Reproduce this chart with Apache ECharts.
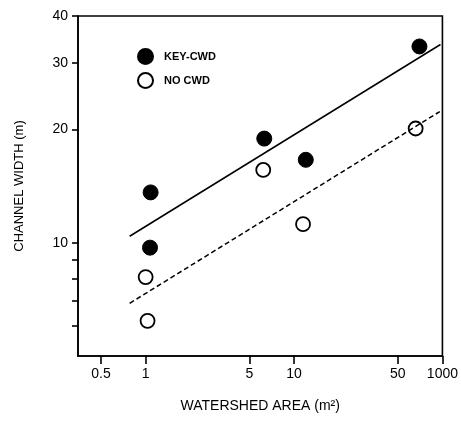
<!DOCTYPE html>
<html>
<head>
<meta charset="utf-8">
<script src="https://cdn.jsdelivr.net/npm/echarts@6/dist/echarts.min.js"></script>
<style>
html,body{margin:0;padding:0;background:#fff;}
#chart{width:461px;height:425px;}
</style>
</head>
<body>
<div id="chart"></div>
<script>
// Data (watershed area, channel width)
const keyCwdX = [1.08, 1.07, 6.3, 12, 70];
const keyCwdY = [13.6, 9.7, 18.9, 16.6, 33.2];
const noCwdX = [1.0, 1.03, 6.2, 11.5, 66];
const noCwdY = [8.1, 6.2, 15.6, 11.2, 20.1];
const keyFitX = [0.78, 97];
const keyFitY = [10.4, 33.6];
const noFitX = [0.78, 96];
const noFitY = [6.9, 22.3];
const xTickValues = [0.5, 1, 5, 10, 50, 100];
const xTickLabels = ['0.5', '1', '5', '10', '50', '1000'];
const yLabelValues = [10, 20, 30, 40];
const yTickValues = [6, 7, 8, 9, 10, 20, 30, 40];

const zip = (a, b) => a.map((v, i) => [v, b[i]]);
const font = 'Liberation Sans, Arial, sans-serif';

const chart = echarts.init(document.getElementById('chart'));
chart.setOption({
  animation: false,
  backgroundColor: '#fff',
  grid: { left: 78, right: 15, top: 16, bottom: 69, show: true, borderColor: '#000', borderWidth: 1.6, backgroundColor: 'transparent' },
  legend: {
    left: 132, top: 43, orient: 'vertical', itemGap: 7,
    itemWidth: 15, itemHeight: 15, icon: 'circle',
    data: ['KEY-CWD', 'NO CWD'],
    textStyle: { fontFamily: font, fontSize: 11, fontWeight: 'bold', color: '#000', padding: [0, 0, 0, 6] }
  },
  xAxis: {
    type: 'log', min: 0.35, max: 100,
    name: 'WATERSHED AREA (m²)', nameLocation: 'middle', nameGap: 43,
    nameTextStyle: { fontFamily: font, fontSize: 14, color: '#000' },
    axisLine: { lineStyle: { color: '#000', width: 1.6 } },
    axisTick: { show: true, inside: false, length: 8, lineStyle: { color: '#000', width: 1.6 }, customValues: xTickValues },
    axisLabel: { fontFamily: font, fontSize: 14, color: '#000', margin: 11,
      customValues: xTickValues,
      formatter: v => { const i = xTickValues.findIndex(t => Math.abs(t - v) < 1e-6); return i >= 0 ? xTickLabels[i] : ''; } },
    splitLine: { show: false }, minorTick: { show: false }
  },
  yAxis: {
    type: 'log', min: 5, max: 40,
    name: 'CHANNEL WIDTH (m)', nameLocation: 'middle', nameGap: 52, nameRotate: 90,
    nameTextStyle: { fontFamily: font, fontSize: 13, color: '#000' },
    axisLine: { lineStyle: { color: '#000', width: 1.6 } },
    axisTick: { show: true, inside: false, length: 6, lineStyle: { color: '#000', width: 1.6 }, customValues: yTickValues },
    axisLabel: { fontFamily: font, fontSize: 14, color: '#000', margin: 10, customValues: yLabelValues },
    splitLine: { show: false }, minorTick: { show: false }
  },
  series: [
    { name: 'KEY-CWD fit', type: 'line', data: zip(keyFitX, keyFitY), symbol: 'none', silent: true,
      lineStyle: { color: '#000', width: 1.5 } },
    { name: 'NO CWD fit', type: 'line', data: zip(noFitX, noFitY), symbol: 'none', silent: true,
      lineStyle: { color: '#000', width: 1.5, type: [5, 3] } },
    { name: 'KEY-CWD', type: 'scatter', data: zip(keyCwdX, keyCwdY), symbol: 'circle', symbolSize: 15,
      itemStyle: { color: '#000', borderColor: '#000', borderWidth: 1, opacity: 1 } },
    { name: 'NO CWD', type: 'scatter', data: zip(noCwdX, noCwdY), symbol: 'circle', symbolSize: 14,
      itemStyle: { color: '#fff', borderColor: '#000', borderWidth: 1.8, opacity: 1 } }
  ]
});
</script>
</body>
</html>
